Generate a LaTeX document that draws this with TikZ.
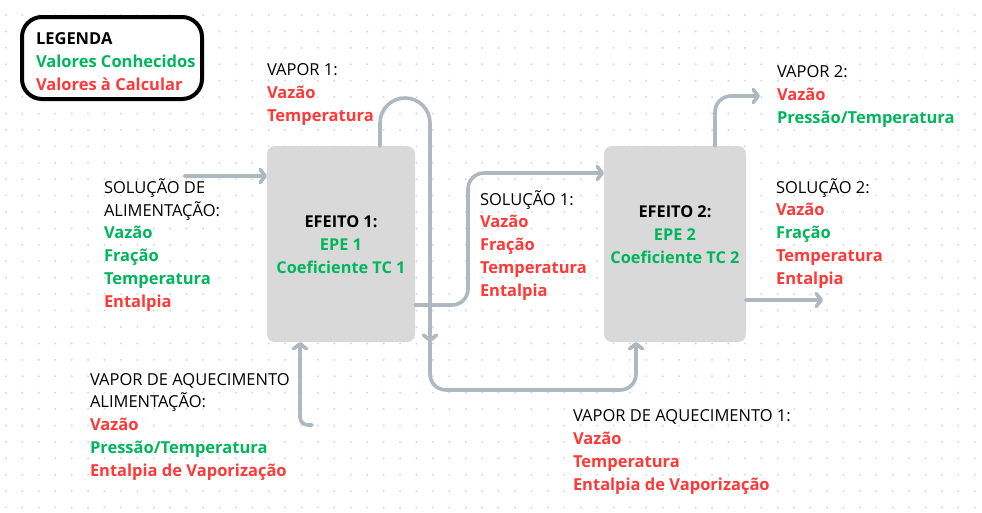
\documentclass[tikz,border=0pt]{standalone}
\usepackage{fontspec}
\setmainfont{Open Sans}
\usetikzlibrary{arrows.meta,calc}
\definecolor{cg}{HTML}{00B65C}
\definecolor{cr}{HTML}{FF3838}
\definecolor{pipec}{HTML}{AEB8C0}
\definecolor{boxg}{HTML}{D9D9D9}
\definecolor{dotc}{HTML}{D5DAE1}
\newcommand{\rv}[1]{{\bfseries\color{cr}#1}}
\newcommand{\gv}[1]{{\bfseries\color{cg}#1}}
\begin{document}
\begin{tikzpicture}[x=1pt,y=-1pt,
  every node/.style={inner sep=0pt, outer sep=0pt},
  lbl/.style={anchor=base west, align=left, font=\fontsize{16.5}{22.7}\selectfont},
  ctr/.style={anchor=base, align=center, font=\fontsize{16.3}{22.7}\selectfont},
  effbox/.style={fill=boxg, rounded corners=8pt, draw=none},
  pipeline/.style={draw=pipec, line width=3.6pt, line cap=round, line join=round, rounded corners=16pt},
  arr/.style={pipeline, -{Straight Barb[length=5pt,width=13pt,round]}},
]
\useasboundingbox (0,0) rectangle (982,512);
\fill[white] (0,0) rectangle (982,512);
\foreach \i in {0,...,59}{
  \foreach \j in {0,...,30}{
    \fill[dotc] ({6+16.42*\i},{15+16.42*\j}) circle (1.1);
  }
}
% legend
\node[draw=black, line width=4pt, rounded corners=20pt, fill=white, minimum width=180pt, minimum height=82pt] (leg) at (112,58) {};
\node[lbl] (legt) at (36,90) {\textbf{LEGENDA}\\\gv{Valores Conhecidos}\\\rv{Valores à Calcular}};
% boxes
\node[effbox, minimum width=148pt, minimum height=196pt] (b1) at (341,244) {};
\node[effbox, minimum width=142pt, minimum height=196pt] (b2) at (675,244) {};
\node[ctr] (t1) at (341,273) {\textbf{EFEITO 1:}\\\gv{EPE 1}\\\gv{Coeficiente TC 1}};
\node[ctr] (t2) at (675,263) {\textbf{EFEITO 2:}\\\gv{EPE 2}\\\gv{Coeficiente TC 2}};
% labels
\node[lbl] (lv1) at (267,121) {VAPOR 1:\\\rv{Vazão}\\\rv{Temperatura}};
\node[lbl] (lfeed) at (104,307) {SOLUÇÃO DE\\ALIMENTAÇÃO:\\\gv{Vazão}\\\gv{Fração}\\\gv{Temperatura}\\\rv{Entalpia}};
\node[lbl] (ls1) at (480,296) {SOLUÇÃO 1:\\\rv{Vazão}\\\rv{Fração}\\\rv{Temperatura}\\\rv{Entalpia}};
\node[lbl] (lv2) at (777,123) {VAPOR 2:\\\rv{Vazão}\\\gv{Pressão/Temperatura}};
\node[lbl] (ls2) at (776,284) {SOLUÇÃO 2:\\\rv{Vazão}\\\gv{Fração}\\\rv{Temperatura}\\\rv{Entalpia}};
\node[lbl] (lva) at (90,476) {VAPOR DE AQUECIMENTO\\ALIMENTAÇÃO:\\\rv{Vazão}\\\gv{Pressão/Temperatura}\\\rv{Entalpia de Vaporização}};
\node[lbl] (lva1) at (573,490) {VAPOR DE AQUECIMENTO 1:\\\rv{Vazão}\\\rv{Temperatura}\\\rv{Entalpia de Vaporização}};
% free ends
\coordinate (feedS) at (185,176);
\coordinate (mid) at (430,342);
\coordinate (low) at (636,390);
\coordinate (s1turn) at (468,240);
\coordinate (v2end) at (760,96);
\coordinate (s2end) at (823,300);
\coordinate (va) at (312,425);
% connectors
\draw[arr] (feedS) -- (feedS -| b1.west);
\draw[arr, sharp corners] ($(b1.north)+(39,0)$) -- ++(0,-23) arc (180:360:25) -- (mid);
\draw[arr] (mid) |- (low) -- (low |- b2.south);
\draw[arr] ($(b1.east)+(0,61)$) -| (s1turn) |- ($(b2.west)+(0,-71)$);
\draw[arr] ($(b2.north)+(40,0)$) |- (v2end);
\draw[arr] ($(b2.east)+(0,56)$) -- (s2end);
\draw[arr, rounded corners=8pt] (va) -| ($(b1.south)+(-41,0)$);
\end{tikzpicture}
\end{document}
